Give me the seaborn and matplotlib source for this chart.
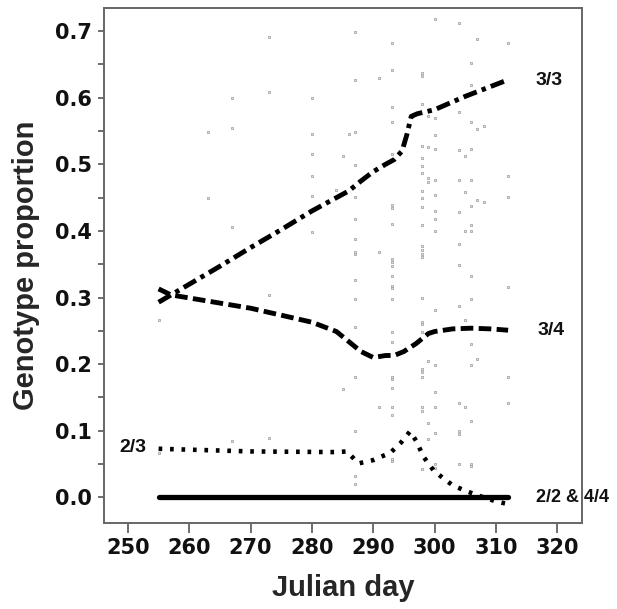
import numpy as np
import pandas as pd
import matplotlib
matplotlib.use("Agg")
import matplotlib.pyplot as plt
import seaborn as sns

# smoothed genotype curves
day_33 = [255, 260, 265, 270, 275, 280, 284, 286, 288, 290, 292, 293.4, 294.7, 295.5, 296.2, 297.2, 300, 305, 312]
val_33 = [0.293, 0.320, 0.347, 0.375, 0.402, 0.430, 0.450, 0.460, 0.475, 0.489, 0.500, 0.507, 0.520, 0.545, 0.572, 0.576, 0.582, 0.602, 0.627]

day_34 = [255, 257, 270, 280, 284, 286, 288, 290, 292, 293.4, 295, 297, 299, 300, 303, 306, 309, 312]
val_34 = [0.313, 0.304, 0.284, 0.263, 0.249, 0.234, 0.219, 0.210, 0.213, 0.213, 0.219, 0.231, 0.246, 0.249, 0.253, 0.254, 0.253, 0.251]

day_23 = [255, 270, 284, 285.7, 287.6, 290, 292.8, 294.5, 296, 297, 298.2, 299.8, 301.5, 303, 305, 306.2, 308, 310, 312]
val_23 = [0.073, 0.069, 0.068, 0.069, 0.051, 0.056, 0.067, 0.082, 0.099, 0.085, 0.061, 0.041, 0.028, 0.018, 0.010, 0.006, 0.000, -0.006, -0.010]

day_22_44 = [255, 312]
val_22_44 = [0.0, 0.0]

# per-sample observations (grey points)
pts_day = ([255] * 2 + [263] * 2 + [267] * 4 + [273] * 4 + [280] * 6 + [284, 285, 285, 286]
           + [287] * 16 + [291] * 3 + [293] * 24 + [298] * 25 + [299] * 7 + [300] * 16
           + [304] * 13 + [305] * 5 + [306] * 15 + [307] * 4 + [308] * 2 + [312] * 6)
pts_val = [0.266, 0.067,
           0.549, 0.449,
           0.599, 0.554, 0.406, 0.084,
           0.691, 0.608, 0.304, 0.089,
           0.600, 0.545, 0.516, 0.482, 0.453, 0.399,
           0.461, 0.162, 0.513, 0.545,
           0.698, 0.627, 0.548, 0.499, 0.451, 0.418, 0.388, 0.368, 0.365, 0.326, 0.298, 0.256,
           0.181, 0.099, 0.032, 0.020,
           0.630, 0.368, 0.136,
           0.682, 0.642, 0.586, 0.564, 0.516, 0.439, 0.434, 0.411, 0.358, 0.353, 0.347, 0.333,
           0.318, 0.314, 0.298, 0.249, 0.233, 0.181, 0.177, 0.164, 0.136, 0.124, 0.058, 0.054,
           0.637, 0.633, 0.590, 0.527, 0.510, 0.498, 0.487, 0.460, 0.450, 0.436, 0.409, 0.377,
           0.371, 0.365, 0.361, 0.299, 0.264, 0.260, 0.249, 0.193, 0.188, 0.181, 0.135, 0.130, 0.042,
           0.573, 0.526, 0.480, 0.474, 0.205, 0.112, 0.088,
           0.718, 0.570, 0.544, 0.523, 0.477, 0.454, 0.430, 0.418, 0.400, 0.282, 0.199, 0.158,
           0.135, 0.096, 0.050, 0.044,
           0.737, 0.712, 0.578, 0.522, 0.477, 0.428, 0.380, 0.349, 0.287, 0.141, 0.100, 0.095, 0.050,
           0.512, 0.459, 0.400, 0.266, 0.135,
           0.652, 0.619, 0.563, 0.523, 0.477, 0.437, 0.409, 0.400, 0.332, 0.298, 0.231, 0.199,
           0.114, 0.050, 0.047,
           0.688, 0.553, 0.447, 0.208,
           0.558, 0.443,
           0.682, 0.482, 0.451, 0.316, 0.181, 0.141]

x_ticks = [250, 260, 270, 280, 290, 300, 310, 320]
y_ticks = [0.0, 0.1, 0.2, 0.3, 0.4, 0.5, 0.6, 0.7]

sns.set_style("white")

fig = plt.figure(figsize=(6.17, 6.09), dpi=100)
ax = fig.add_axes([0.1686, 0.1417, 0.7742, 0.8455])

pts = pd.DataFrame({"day": pts_day, "val": pts_val})
sns.scatterplot(data=pts, x="day", y="val", ax=ax, marker="s", s=3.5,
                facecolor="#e4e4e4", edgecolor="#999999", linewidth=0.5, zorder=1)

sns.lineplot(x=day_22_44, y=val_22_44, ax=ax, color="black", lw=3.8, zorder=3)
sns.lineplot(x=day_23, y=val_23, ax=ax, color="black", lw=3.3,
             linestyle=(0, (0.8, 1.7)), zorder=4)
sns.lineplot(x=day_34, y=val_34, ax=ax, color="black", lw=3.5,
             linestyle=(0, (2.6, 1.1)), zorder=4)
sns.lineplot(x=day_33, y=val_33, ax=ax, color="black", lw=3.5,
             linestyle=(0, (2.9, 1.1, 0.9, 1.1)), zorder=4)

ax.set_xlim(246.1, 324.0)
ax.set_ylim(-0.038, 0.735)
ax.set_xticks(x_ticks)
ax.set_yticks(y_ticks)
ax.set_yticks(np.arange(0.05, 0.75, 0.1), minor=True)
ax.set_yticklabels([f"{v:.1f}" for v in y_ticks])

tick_font = {"family": "DejaVu Sans", "weight": "bold", "size": 15}
for lab in ax.get_xticklabels() + ax.get_yticklabels():
    lab.set_fontproperties(matplotlib.font_manager.FontProperties(**tick_font))
    lab.set_color("#111111")

ax.tick_params(axis="x", which="major", direction="out", length=7, width=1.2,
               color="#555555", pad=4, bottom=True)
ax.tick_params(axis="y", which="both", direction="out", length=4, width=1.2,
               color="#555555", pad=5, left=True)

for sp in ax.spines.values():
    sp.set_color("#666666")
    sp.set_linewidth(1.4)

lab_font = dict(family="Liberation Sans", weight="bold", size=21)
ax.set_xlabel("Julian day", **lab_font)
ax.set_ylabel("Genotype proportion", **lab_font)
ax.xaxis.set_label_coords(0.5, -0.10)
ax.yaxis.set_label_coords(-0.134, 0.5)

txt = dict(family="Liberation Sans", weight="bold", size=14, color="#111111")
ax.text(318.7, 0.626, "3/3", ha="center", va="center", **txt)
ax.text(319.0, 0.250, "3/4", ha="center", va="center", **txt)
ax.text(250.8, 0.075, "2/3", ha="center", va="center", **txt)
ax.text(316.5, 0.0, "2/2 & 4/4", ha="left", va="center", clip_on=False,
        family="Liberation Sans", weight="bold", size=13, color="#111111")

fig.savefig("out.png", dpi=100)
